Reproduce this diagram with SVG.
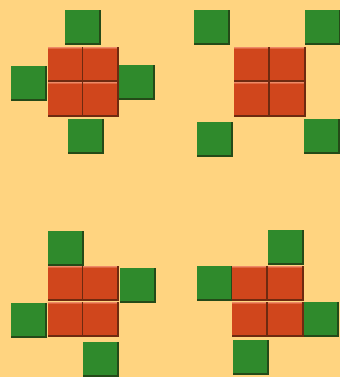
<svg xmlns="http://www.w3.org/2000/svg" xmlns:xlink="http://www.w3.org/1999/xlink" width="340" height="377" viewBox="0 0 340 377">
<defs>
<style>
.g{fill:#2f8a2c}.gd{fill:#244a18}.r{fill:#d0461c}.rd{fill:#6e2a10}.rl{fill:#ee8a66}
</style>
<symbol id="G" overflow="visible">
<rect class="g" x="0" y="0" width="36" height="35"/>
<rect class="gd" x="0" y="33" width="36" height="2"/>
<rect class="gd" x="34" y="0" width="2" height="35"/>
</symbol>
<symbol id="R" overflow="visible">
<rect class="r" x="0" y="0" width="36" height="35"/>
<rect class="rl" x="0" y="0" width="36" height="1.5"/>
<rect class="rd" x="0" y="33" width="36" height="2"/>
<rect class="rd" x="34" y="0" width="2" height="35"/>
</symbol>
</defs>
<rect width="340" height="377" fill="#ffd480"/>
<g id="fig1">
<use href="#G" x="65" y="10"/>
<use href="#G" x="11" y="66"/>
<use href="#G" x="119" y="65"/>
<use href="#G" x="68" y="119"/>
<use href="#R" x="48" y="47"/>
<use href="#R" x="83" y="47"/>
<use href="#R" x="48" y="82"/>
<use href="#R" x="83" y="82"/>
</g>
<g id="fig2">
<use href="#G" x="194" y="10"/>
<use href="#G" x="305" y="10"/>
<use href="#G" x="197" y="122"/>
<use href="#G" x="304" y="119"/>
<use href="#R" x="234" y="47"/>
<use href="#R" x="270" y="47"/>
<use href="#R" x="234" y="82"/>
<use href="#R" x="270" y="82"/>
</g>
<g id="fig3">
<use href="#G" x="48" y="231"/>
<use href="#G" x="120" y="268"/>
<use href="#G" x="11" y="303"/>
<use href="#G" x="83" y="342"/>
<use href="#R" x="48" y="266"/>
<use href="#R" x="83" y="266"/>
<use href="#R" x="48" y="302"/>
<use href="#R" x="83" y="302"/>
</g>
<g id="fig4">
<use href="#G" x="268" y="230"/>
<use href="#G" x="197" y="266"/>
<use href="#G" x="303" y="302"/>
<use href="#G" x="233" y="340"/>
<use href="#R" x="232" y="266"/>
<use href="#R" x="268" y="266"/>
<use href="#R" x="232" y="302"/>
<use href="#R" x="268" y="302"/>
</g>
<g id="connectors"/>
</svg>
